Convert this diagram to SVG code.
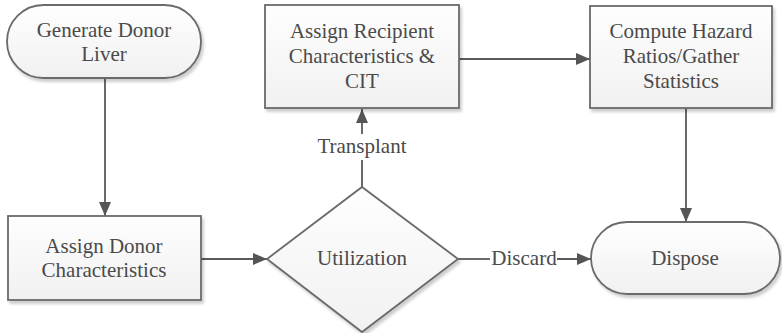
<svg xmlns="http://www.w3.org/2000/svg" width="782" height="333" viewBox="0 0 782 333">
  <defs>
    <linearGradient id="fillGrad" x1="0" y1="0" x2="0" y2="1">
      <stop offset="0" stop-color="#fefefe"/>
      <stop offset="1" stop-color="#f1f1f1"/>
    </linearGradient>
    <filter id="shadow" x="-10%" y="-10%" width="130%" height="130%">
      <feGaussianBlur in="SourceAlpha" stdDeviation="1.5"/>
      <feOffset dx="2" dy="3" result="b"/>
      <feComponentTransfer><feFuncA type="linear" slope="0.2"/></feComponentTransfer>
      <feMerge><feMergeNode/><feMergeNode in="SourceGraphic"/></feMerge>
    </filter>
    <marker id="arrow" viewBox="0 0 14 12" refX="14" refY="6" markerWidth="14" markerHeight="12" markerUnits="userSpaceOnUse" orient="auto">
      <path d="M0,0 L14,6 L0,12 Z" fill="#555"/>
    </marker>
  </defs>
  <style>
    .shape { fill: url(#fillGrad); stroke: #6a6a6a; stroke-width: 1.8; filter: url(#shadow); }
    .label { font-size: 21px; fill: #4a4a4a; text-anchor: middle; }
    .edge { fill: none; stroke: #5a5a5a; stroke-width: 1.8; }
  </style>

  <g font-family="Liberation Serif, Times New Roman, DejaVu Serif, serif">
  <g id="connectors">
    <path class="edge" d="M105,78 L105,216" marker-end="url(#arrow)"/>
    <path class="edge" d="M201,259 L267,259" marker-end="url(#arrow)"/>
    <path class="edge" d="M362,187 L362,160"/>
    <path class="edge" d="M362,134 L362,109" marker-end="url(#arrow)"/>
    <text class="label" x="362" y="153">Transplant</text>
    <path class="edge" d="M458,259 L490,259"/>
    <path class="edge" d="M557,259 L591,259" marker-end="url(#arrow)"/>
    <text class="label" x="524" y="265">Discard</text>
    <path class="edge" d="M459,59 L590,59" marker-end="url(#arrow)"/>
    <path class="edge" d="M686,108 L686,222" marker-end="url(#arrow)"/>
  </g>

  <g id="generate-donor-liver">
    <rect class="shape" x="7" y="5" width="194" height="73" rx="36.5" ry="36.5"/>
    <text class="label" x="104" y="37">Generate Donor</text>
    <text class="label" x="104" y="61">Liver</text>
  </g>

  <g id="assign-donor">
    <rect class="shape" x="8" y="216" width="193" height="84"/>
    <text class="label" x="104" y="253">Assign Donor</text>
    <text class="label" x="104" y="277">Characteristics</text>
  </g>

  <g id="utilization">
    <polygon class="shape" points="362,187 458,259 362,332 267,259"/>
    <text class="label" x="362" y="265">Utilization</text>
  </g>

  <g id="assign-recipient">
    <rect class="shape" x="265" y="5" width="194" height="103"/>
    <text class="label" x="362" y="38">Assign Recipient</text>
    <text class="label" x="362" y="63">Characteristics &amp;</text>
    <text class="label" x="362" y="88">CIT</text>
  </g>

  <g id="compute-hazard">
    <rect class="shape" x="590" y="6" width="182" height="102"/>
    <text class="label" x="681" y="38">Compute Hazard</text>
    <text class="label" x="681" y="63">Ratios/Gather</text>
    <text class="label" x="681" y="88">Statistics</text>
  </g>

  <g id="dispose">
    <rect class="shape" x="591" y="222" width="189" height="72" rx="36" ry="36"/>
    <text class="label" x="685" y="265">Dispose</text>
  </g>
  </g>
</svg>
